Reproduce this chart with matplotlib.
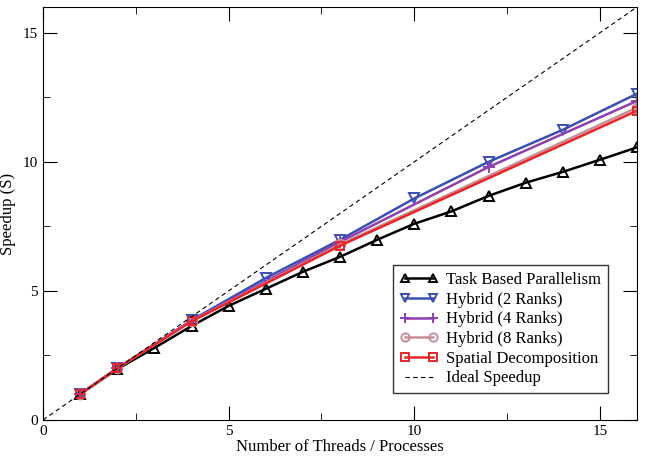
import numpy as np
from matplotlib import pyplot as plt

plt.rcParams['font.family'] = ['Liberation Serif', 'DejaVu Serif']

# Task based parallelism (every thread count)
x_task = [1, 2, 3, 4, 5, 6, 7, 8, 9, 10, 11, 12, 13, 14, 15, 16]
s_task = [1.0, 1.97, 2.79, 3.64, 4.42, 5.08, 5.74, 6.32, 6.98, 7.6, 8.08,
          8.68, 9.19, 9.61, 10.08, 10.56]

x_h2 = [1, 2, 4, 6, 8, 10, 12, 14, 16]
s_h2 = [1.0, 2.0, 3.86, 5.5, 6.98, 8.58, 10.0, 11.24, 12.64]

x_h4 = [1, 2, 4, 8, 12, 16]
s_h4 = [1.0, 2.0, 3.85, 6.9, 9.8, 12.36]

x_h8 = [1, 2, 4, 8, 16]
s_h8 = [1.0, 2.0, 3.83, 6.8, 12.1]

x_sp = [1, 2, 4, 8, 16]
s_sp = [1.0, 2.0, 3.82, 6.75, 11.98]

x_ideal = [0, 16]

fig = plt.figure(figsize=(6.45, 4.62), dpi=100)
ax = fig.add_axes([0.0667, 0.091, 0.921, 0.894])

lw = 1.8
ms = 7
ax.plot(x_task, s_task, color='black', lw=lw, marker='^', ms=ms,
        mfc='none', mew=1.4, label='Task Based Parallelism')
ax.plot(x_h2, s_h2, color='#3a4fb0', lw=lw, marker='v', ms=ms,
        mfc='none', mew=1.4, label='Hybrid (2 Ranks)')
ax.plot(x_h4, s_h4, color='#8e3fb0', lw=lw, marker='+', ms=ms + 2,
        mew=1.4, label='Hybrid (4 Ranks)')
ax.plot(x_h8, s_h8, color='#c49096', lw=lw, marker='o', ms=ms,
        mfc='none', mew=1.4, label='Hybrid (8 Ranks)')
ax.plot(x_sp, s_sp, color='#e8262a', lw=lw, marker='s', ms=ms - 1,
        mfc='none', mew=1.4, label='Spatial Decomposition')
ax.plot(x_ideal, x_ideal, color='black', lw=0.8, ls=(0, (4, 3)),
        label='Ideal Speedup')

ax.set_xlim(0, 16)
ax.set_ylim(0, 16)
ax.set_xticks([0, 5, 10, 15])
ax.set_yticks([0, 5, 10, 15])
ax.set_xticks(np.arange(0, 16.1, 2.5), minor=True)
ax.set_yticks(np.arange(0, 16.1, 2.5), minor=True)
ax.tick_params(which='both', direction='in', top=True, right=True,
               labelsize=11)
ax.tick_params(which='major', length=10)
ax.tick_params(which='minor', length=5)
ax.set_xlabel('Number of Threads / Processes', fontsize=12, labelpad=1)
ax.set_ylabel('Speedup (S)', fontsize=12, labelpad=5)

leg = ax.legend(loc='lower right', bbox_to_anchor=(0.951, 0.065),
                fontsize=12, frameon=True, fancybox=False, numpoints=2,
                edgecolor='black', handlelength=2.3, borderpad=0.4,
                labelspacing=0.22, handletextpad=0.5, borderaxespad=0,
                markerscale=0.85)
leg.get_frame().set_linewidth(1.0)

fig.savefig('out.png', dpi=100)
